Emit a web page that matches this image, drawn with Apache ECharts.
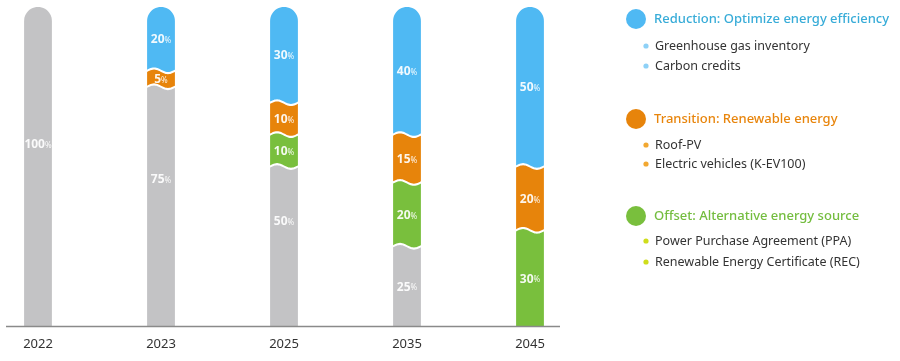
<!DOCTYPE html>
<html>
<head>
<meta charset="utf-8">
<script src="https://cdn.jsdelivr.net/npm/echarts@6/dist/echarts.min.js"></script>
<style>html,body{margin:0;padding:0;background:#fff}#c{width:900px;height:361px}</style>
</head>
<body>
<div id="c"></div>
<script>
// ---- data ----
const categories = ['2022', '2023', '2025', '2035', '2045'];
const baseline   = [100, 75, 50, 25, 0];   // gray (current emissions)
const offset     = [0, 0, 10, 20, 30];     // green
const transition = [0, 5, 10, 15, 20];     // orange
const reduction  = [0, 20, 30, 40, 50];    // blue

const legendTitles = ['Reduction: Optimize energy efficiency', 'Transition: Renewable energy', 'Offset: Alternative energy source'];
const legendItems = [
  ['Greenhouse gas inventory', 'Carbon credits'],
  ['Roof-PV', 'Electric vehicles (K-EV100)'],
  ['Power Purchase Agreement (PPA)', 'Renewable Energy Certificate (REC)']
];

// ---- styles ----
const segColors = ['#c3c3c5', '#79bf3d', '#e7840b', '#4fb9f3'];
const titleColors = ['#38acd8', '#e8850c', '#74bd3f'];
const bulletColors = ['#8ed1f7', '#f2a831', '#cfdd1b'];
const grayLabelShift = [-23, -28, -26, 0, 0];
const FONT = '"Noto Sans", sans-serif';

const stacks = [baseline, offset, transition, reduction];

function makeSeries(si) {
  const data = categories.map((c, i) => {
    let lo = 0;
    for (let k = 0; k < si; k++) lo += stacks[k][i];
    return [i, lo, lo + stacks[si][i], stacks[si][i]];
  });
  return {
    type: 'custom',
    name: 's' + si,
    data: data,
    renderItem: function (params, api) {
      const ci = api.value(0), lo = api.value(1), hi = api.value(2), v = api.value(3);
      if (!(v > 0)) return null;
      const pLo = api.coord([ci, lo]);
      const pHi = api.coord([ci, hi]);
      const band = api.size([1, 0])[0];
      const w = band * 0.226;
      const cx = pLo[0];
      const x0 = cx - w / 2, x1 = cx + w / 2;
      const A = 2.3, gap = 1.1, N = 24;
      const pts = [];
      if (hi >= 100 - 1e-6) {
        const r = w / 2, cy = pHi[1] + r;
        for (let k = 0; k <= N; k++) {
          const th = Math.PI - Math.PI * k / N;
          pts.push([cx + r * Math.cos(th), cy - r * Math.sin(th)]);
        }
      } else {
        for (let k = 0; k <= N; k++) {
          const t = k / N;
          pts.push([x0 + w * t, pHi[1] + gap - A * Math.sin(2 * Math.PI * t)]);
        }
      }
      if (lo <= 1e-6) {
        pts.push([x1, pLo[1]]);
        pts.push([x0, pLo[1]]);
      } else {
        for (let k = N; k >= 0; k--) {
          const t = k / N;
          pts.push([x0 + w * t, pLo[1] - gap - A * Math.sin(2 * Math.PI * t)]);
        }
      }
      let ly = (pHi[1] + pLo[1]) / 2;
      if (si === 0) ly += grayLabelShift[ci];
      return {
        type: 'group',
        children: [
          { type: 'polygon', shape: { points: pts }, style: { fill: segColors[si] } },
          {
            type: 'text',
            style: {
              x: cx, y: ly + 1,
              text: '{n|' + v + '}{p|%}',
              align: 'center', verticalAlign: 'middle',
              rich: {
                n: { fontSize: 12, fontWeight: 'bold', fill: '#fff', fontFamily: FONT },
                p: { fontSize: 8, fill: '#fff', fontFamily: FONT, padding: [2, 0, 0, 0] }
              },
              opacity: 0.92
            }
          }
        ]
      };
    }
  };
}

// legend graphics
const legendY = [[19, 46, 66], [119, 145, 164], [216, 241, 262]];
const graphics = [];
legendTitles.forEach((t, i) => {
  const [ty, y1, y2] = legendY[i];
  graphics.push({ type: 'circle', shape: { cx: 636, cy: ty, r: 10 }, style: { fill: segColors[3 - i] } });
  graphics.push({ type: 'text', x: 654, y: ty, style: { text: t, fill: titleColors[i], font: '500 13px ' + FONT, verticalAlign: 'middle' } });
  [y1, y2].forEach((yy, j) => {
    graphics.push({ type: 'circle', shape: { cx: 646, cy: yy, r: 2.6 }, style: { fill: bulletColors[i] } });
    graphics.push({ type: 'text', x: 655, y: yy, style: { text: legendItems[i][j], fill: '#333', font: '12.5px ' + FONT, verticalAlign: 'middle' } });
  });
});
graphics.push({ type: 'line', shape: { x1: 6, y1: 326.5, x2: 560, y2: 326.5 }, style: { stroke: '#8a8a8a', lineWidth: 1.5 }, z: 100 });

const chart = echarts.init(document.getElementById('c'), null, { renderer: 'canvas' });
chart.setOption({
  animation: false,
  grid: { left: -23.5, right: 308.5, top: 7, bottom: 35, containLabel: false, outerBoundsMode: 'none' },
  xAxis: {
    type: 'category', data: categories,
    axisLine: { show: false }, axisTick: { show: false },
    axisLabel: { color: '#333', fontSize: 13, margin: 12, fontFamily: FONT }
  },
  yAxis: { type: 'value', min: 0, max: 100, show: false },
  series: [0, 1, 2, 3].map(makeSeries),
  graphic: graphics
});
</script>
</body>
</html>
